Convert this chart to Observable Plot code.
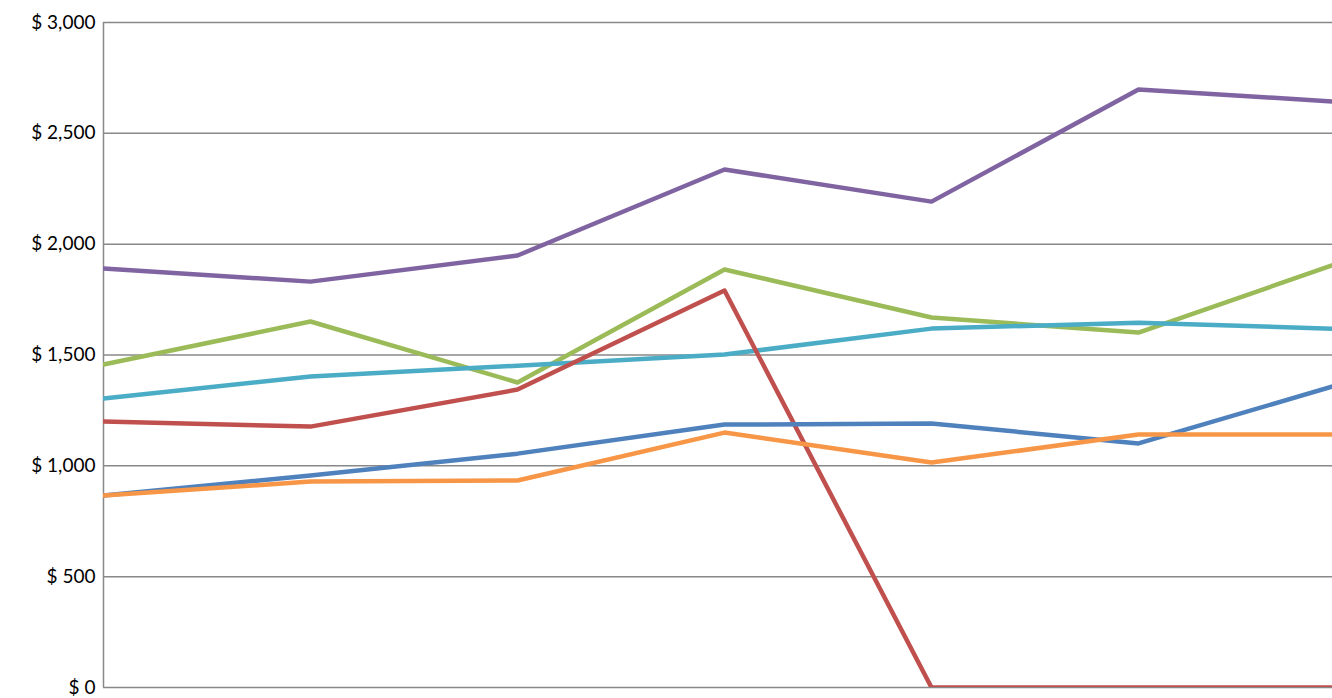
<!DOCTYPE html>
<html><head>
<script src="https://cdn.jsdelivr.net/npm/d3@7"></script>
<script src="https://cdn.jsdelivr.net/npm/@observablehq/plot@0.6"></script>
<style>body{margin:0;background:#fff;font-family:Lato,sans-serif}</style>
</head><body><div id="chart"></div>
<script>
const periods = [0, 1, 2, 3, 4, 5, 6];
const s1 = [1890, 1831, 1949, 2337, 2192, 2698, 2640];
const s2 = [1457, 1651, 1376, 1886, 1669, 1601, 1925];
const s3 = [1304, 1403, 1452, 1502, 1619, 1646, 1617];
const s4 = [1200, 1177, 1344, 1791, 0, 0, 0];
const s5 = [866, 956, 1055, 1186, 1191, 1101, 1375];
const s6 = [866, 929, 934, 1150, 1015, 1141, 1141];

const series = [
  ["Serie 1", s1, "#8064a2"],
  ["Serie 2", s2, "#9bbb59"],
  ["Serie 3", s3, "#4bacc6"],
  ["Serie 4", s4, "#c0504d"],
  ["Serie 5", s5, "#4f81bd"],
  ["Serie 6", s6, "#f79646"]
];
const data = series.flatMap(([name, vals]) => vals.map((v, i) => ({name, x: periods[i], y: v})));

const chart = Plot.plot({
  width: 1332, height: 698,
  marginLeft: 103, marginRight: 0, marginTop: 22, marginBottom: 11,
  style: {fontFamily: "Lato, sans-serif", fontSize: "19px", color: "#000"},
  x: {domain: [0, 1229 / 207], axis: null},
  y: {domain: [0, 3000], ticks: [0, 500, 1000, 1500, 2000, 2500, 3000],
      tickFormat: d => "$ " + d3.format(",")(d), tickSize: 0, tickPadding: 8, label: null},
  color: {type: "ordinal", domain: series.map(s => s[0]), range: series.map(s => s[2])},
  marks: [
    Plot.gridY([500, 1000, 1500, 2000, 2500, 3000], {stroke: "#888", strokeOpacity: 1, strokeWidth: 1.5}),
    Plot.ruleY([0], {stroke: "#888", strokeWidth: 1.5}),
    Plot.ruleX([0], {stroke: "#888", strokeWidth: 1.5}),
    Plot.line(data, {x: "x", y: "y", z: "name", stroke: "name", strokeWidth: 4.5, clip: true})
  ]
});
document.getElementById("chart").append(chart);
</script></body></html>
